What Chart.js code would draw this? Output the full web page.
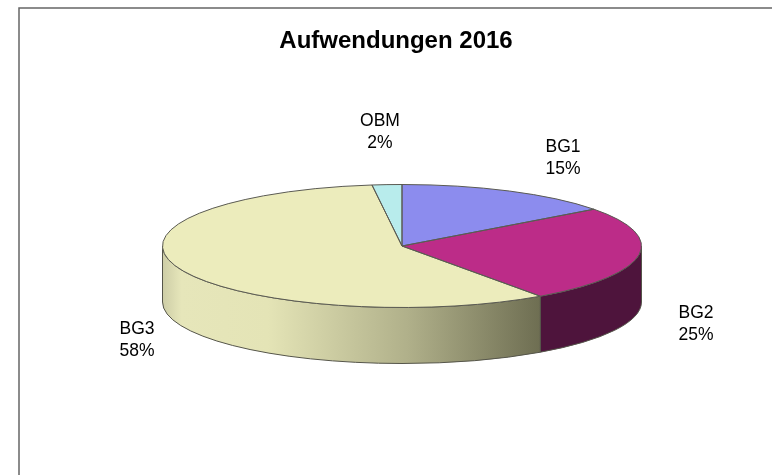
<!DOCTYPE html>
<html>
<head>
<meta charset="utf-8">
<style>
  html, body { margin: 0; padding: 0; background: #fff; }
  #wrap { width: 772px; height: 475px; }
</style>
<script src="https://cdn.jsdelivr.net/npm/chart.js@4"></script>
</head>
<body>
<div id="wrap"><canvas id="pie" width="772" height="475"></canvas></div>
<script>
const categories = ['BG1', 'BG2', 'BG3', 'OBM'];
const shares = [14.8, 25.4, 57.8, 2.0];
const topColors = ['#8c8cee', '#bc2c88', '#ececbc', '#b8ecec'];

// where the text of each label sits (centre x, first line y)
const labelSpots = [[563, 147], [696, 313], [137, 329], [380, 121]];

// tilt of the fake 3d disc
const centerX = 402;
const centerY = 246;
const radiusX = 239.5;
const radiusY = 61.5;
const depth = 56;

function wallFill(ctx, i) {
    if (i === 1) return '#4e143c';
    const g = ctx.createLinearGradient(centerX - radiusX, 0, centerX + 138, 0);
    g.addColorStop(0, '#cdcda6');
    g.addColorStop(0.05, '#e6e6ba');
    g.addColorStop(0.28, '#e4e4b6');
    g.addColorStop(0.65, '#b0b08a');
    g.addColorStop(1, '#6e6e52');
    return g;
}

const disc3d = {
    id: 'disc3d',
    beforeDraw(chart) {
        const ctx = chart.ctx;
        ctx.save();
        ctx.strokeStyle = '#666';
        ctx.lineWidth = 1.5;
        ctx.beginPath();
        ctx.moveTo(19, chart.height);
        ctx.lineTo(19, 8);
        ctx.lineTo(chart.width, 8);
        ctx.stroke();
        ctx.restore();
    },
    beforeDatasetsDraw(chart) {
        const ctx = chart.ctx;
        const arcs = chart.getDatasetMeta(0).data;

        // side wall, only the front half of the disc shows
        arcs.forEach((arc, i) => {
            const a0 = Math.max(arc.startAngle, 0);
            const a1 = Math.min(arc.endAngle, Math.PI);
            if (a1 <= a0) return;
            ctx.beginPath();
            ctx.ellipse(centerX, centerY, radiusX, radiusY, 0, a0, a1);
            ctx.ellipse(centerX, centerY + depth, radiusX, radiusY, 0, a1, a0, true);
            ctx.closePath();
            ctx.fillStyle = wallFill(ctx, i);
            ctx.fill();
            ctx.strokeStyle = '#55554a';
            ctx.lineWidth = 1;
            ctx.stroke();
        });

        // squash the round pie into the top ellipse
        ctx.save();
        ctx.translate(centerX, centerY);
        ctx.scale(1, radiusY / radiusX);
        ctx.translate(-arcs[0].x, -arcs[0].y);
    },
    afterDatasetsDraw(chart) {
        const ctx = chart.ctx;
        ctx.restore();

        const arcs = chart.getDatasetMeta(0).data;
        ctx.save();
        ctx.strokeStyle = '#5a5a52';
        ctx.lineWidth = 1;
        arcs.forEach(arc => {
            ctx.beginPath();
            ctx.moveTo(centerX, centerY);
            ctx.ellipse(centerX, centerY, radiusX, radiusY, 0, arc.startAngle, arc.endAngle);
            ctx.closePath();
            ctx.stroke();
        });
        ctx.restore();

        // labels
        ctx.save();
        ctx.fillStyle = '#000';
        ctx.font = '17.5px "Liberation Sans", Arial, sans-serif';
        ctx.textAlign = 'center';
        ctx.textBaseline = 'middle';
        categories.forEach((name, i) => {
            const [x, y] = labelSpots[i];
            ctx.fillText(name, x, y);
            ctx.fillText(Math.round(shares[i]) + '%', x, y + 22);
        });
        ctx.restore();
    }
};

const ctx = document.getElementById('pie').getContext('2d');
new Chart(ctx, {
    type: 'pie',
    data: {
        labels: categories,
        datasets: [{
            data: shares,
            backgroundColor: topColors,
            borderWidth: 0,
            clip: false
        }]
    },
    options: {
        responsive: false,
        animation: false,
        radius: radiusX,
        layout: { padding: { left: 20 } },
        plugins: {
            legend: { display: false },
            tooltip: { enabled: false },
            title: {
                display: true,
                text: 'Aufwendungen 2016',
                color: '#000',
                font: { family: '"Liberation Sans", Arial, sans-serif', size: 24, weight: 'bold' },
                padding: { top: 27, bottom: 10 }
            }
        }
    },
    plugins: [disc3d]
});
</script>
</body>
</html>
